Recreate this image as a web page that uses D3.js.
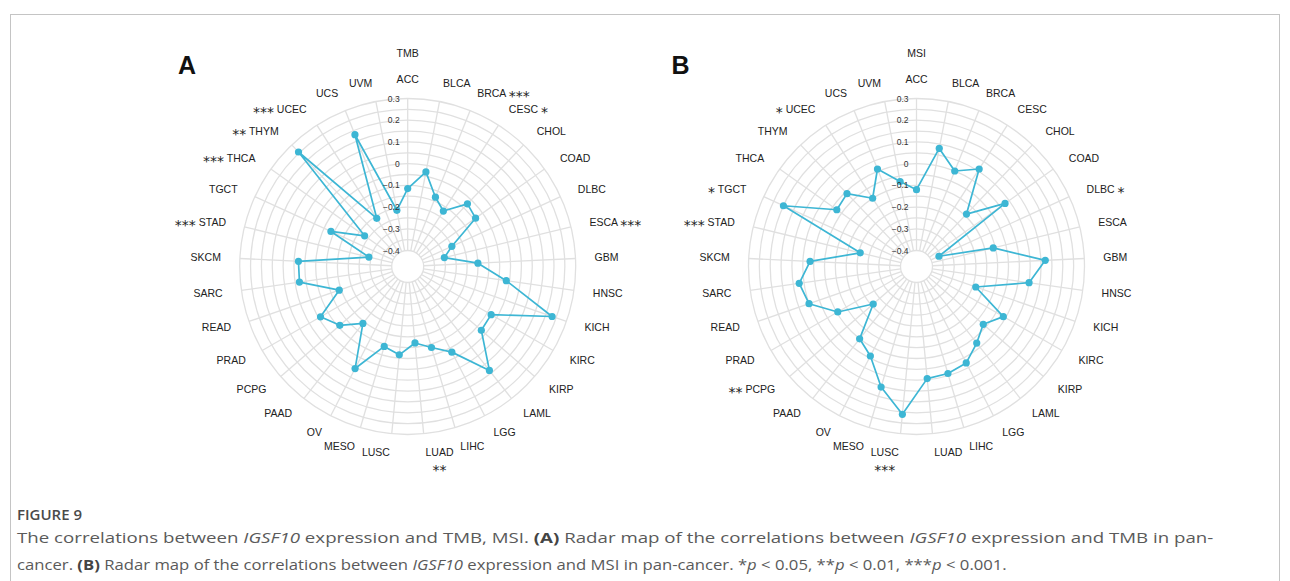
<!DOCTYPE html>
<html>
<head>
<meta charset="utf-8">
<script src="https://cdn.jsdelivr.net/npm/d3@7"></script>
<style>
  body { margin: 0; background: #fff; }
  svg { display: block; }
</style>
</head>
<body>
<svg id="fig" width="1290" height="581"></svg>
<script>
// Cancer types, clockwise from the top spoke
const cancers = ["ACC","BLCA","BRCA","CESC","CHOL","COAD","DLBC","ESCA","GBM","HNSC",
  "KICH","KIRC","KIRP","LAML","LGG","LIHC","LUAD","LUSC","MESO","OV","PAAD","PCPG",
  "PRAD","READ","SARC","SKCM","STAD","TGCT","THCA","THYM","UCEC","UCS","UVM"];

// Correlation of IGSF10 expression with TMB
const tmbCorr = [-0.115,-0.03,-0.13,-0.17,-0.075,-0.09,-0.25,-0.30,-0.15,-0.015,
  0.23,-0.03,-0.025,0.135,-0.03,-0.085,-0.12,-0.065,-0.09,0.055,-0.14,-0.06,
  -0.01,-0.14,0.03,0.03,-0.29,-0.085,-0.23,0.255,-0.21,0.18,-0.21];
const tmbStars = ["","","***","*","","","","***","","",
  "","","","","","","**","","","","","",
  "","","","","***","","***","**","***","",""];

// Correlation of IGSF10 expression with MSI
const msiCorr = [-0.12,0.08,0.0,0.06,-0.14,0.027,-0.36,-0.11,0.12,0.05,
  -0.185,-0.012,-0.067,-0.025,0.026,0.04,0.045,0.21,0.105,-0.01,-0.05,-0.21,
  -0.055,0.05,0.072,0.017,-0.207,0.2,-0.023,-0.01,-0.1,0.01,-0.075];
const msiStars = ["","","","","","","*","","","",
  "","","","","","","","***","","","","**",
  "","","","","***","*","","","*","",""];

// Radial axis
const radialTicks = [0.3,0.2,0.1,0,-0.1,-0.2,-0.3,-0.4];
const radialTickLabels = ["0.3","0.2","0.1","0","\u22120.1","\u22120.2","\u22120.3","\u22120.4"];
const gridLevels = d3.range(-0.4, 0.3001, 0.05);

const svg = d3.select("#fig");
const lineColor = "#3db6d4";
const gridColor = "#e0e0e0";
const labelFont = "'Liberation Sans', Arial, Helvetica, sans-serif";
const starFont = "'DejaVu Sans', sans-serif";
const starSize = 14;
const starDrop = 4.2;

// frame around the figure
svg.append("rect")
  .attr("x", 10.5).attr("y", 14.5).attr("width", 1269).attr("height", 640)
  .attr("fill", "none").attr("stroke", "#c4c4c4").attr("stroke-width", 1);

function addStars(textSel, star) {
  return textSel.append("tspan")
    .attr("font-family", starFont).attr("font-size", starSize)
    .attr("dy", starDrop).text(star);
}

function drawRadar(cx, cy, title, letter, letterX, values, stars) {
  const g = svg.append("g").attr("transform", `translate(${cx},${cy})`);
  const n = cancers.length;
  const r = d3.scaleLinear().domain([-0.4, 0.3]).range([16, 168]);
  const angle = d3.scaleLinear().domain([0, n]).range([0, 2 * Math.PI]);

  // concentric grid
  g.append("g").selectAll("circle").data(gridLevels).join("circle")
    .attr("r", d => r(d)).attr("fill", "none")
    .attr("stroke", gridColor).attr("stroke-width", 1.3);

  // spokes
  g.append("g").selectAll("line").data(cancers).join("line")
    .attr("x1", (d, i) => r(-0.4) * Math.sin(angle(i)))
    .attr("y1", (d, i) => -r(-0.4) * Math.cos(angle(i)))
    .attr("x2", (d, i) => r(0.3) * Math.sin(angle(i)))
    .attr("y2", (d, i) => -r(0.3) * Math.cos(angle(i)))
    .attr("stroke", gridColor).attr("stroke-width", 1.3);

  // correlation polygon
  const radial = d3.lineRadial()
    .angle((d, i) => angle(i))
    .radius(d => r(d))
    .curve(d3.curveLinearClosed);
  g.append("path").datum(values)
    .attr("d", radial).attr("fill", "none")
    .attr("stroke", lineColor).attr("stroke-width", 1.7)
    .attr("stroke-linejoin", "round");

  g.append("g").selectAll("circle").data(values).join("circle")
    .attr("cx", (d, i) => r(d) * Math.sin(angle(i)))
    .attr("cy", (d, i) => -r(d) * Math.cos(angle(i)))
    .attr("r", 3.6).attr("fill", lineColor);

  // radial tick labels
  g.append("g").selectAll("text").data(radialTicks).join("text")
    .attr("x", -8).attr("y", d => -r(d) + 3)
    .attr("text-anchor", "end")
    .attr("font-family", labelFont).attr("font-size", 8.5).attr("fill", "#333")
    .text((d, i) => radialTickLabels[i]);

  // category labels
  const R = 187;
  const fs = 10.5;
  const lab = g.append("g").attr("font-family", labelFont)
    .attr("font-size", fs).attr("fill", "#222");
  cancers.forEach((name, i) => {
    const a = angle(i);
    const s = Math.sin(a), c = Math.cos(a);
    const x = R * s, y = -R * c;
    const anchor = Math.abs(s) < 1e-6 ? "middle" : (s > 0 ? "start" : "end");
    const star = stars[i];
    const bottom = c < -0.95;
    const t = lab.append("text")
      .attr("x", x).attr("y", y + fs * 0.36)
      .attr("text-anchor", anchor);
    if (star && !bottom) {
      if (s > 0) {
        t.append("tspan").text(name + " ");
        addStars(t, star);
      } else {
        addStars(t, star);
        t.append("tspan").attr("dy", -starDrop).text(" " + name);
      }
    } else {
      t.text(name);
    }
    if (star && bottom) {
      const w = t.node().getComputedTextLength();
      const mid = anchor === "start" ? x + w / 2 : (anchor === "end" ? x - w / 2 : x);
      lab.append("text")
        .attr("x", mid).attr("y", y + fs * 0.36 + 14 + starDrop)
        .attr("text-anchor", "middle")
        .attr("font-family", starFont).attr("font-size", starSize)
        .text(star);
    }
  });

  // axis title above the top spoke
  g.append("text").attr("x", 0).attr("y", -210)
    .attr("text-anchor", "middle")
    .attr("font-family", labelFont).attr("font-size", fs).attr("fill", "#222")
    .text(title);

  // panel letter
  svg.append("text").attr("x", letterX).attr("y", 73.5)
    .attr("font-family", labelFont).attr("font-weight", "bold")
    .attr("font-size", 25).attr("fill", "#111").text(letter);
}

drawRadar(407.7, 266.5, "TMB", "A", 178, tmbCorr, tmbStars);
drawRadar(916.5, 266.5, "MSI", "B", 671.5, msiCorr, msiStars);

// caption
const capFont = "'Open Sans', 'Noto Sans', sans-serif";
svg.append("text").attr("x", 17).attr("y", 519.5)
  .attr("font-family", capFont).attr("font-size", 15).attr("font-weight", 600)
  .attr("fill", "#4a4a4a").text("FIGURE 9");

function captionLine(y, parts, width) {
  const t = svg.append("text").attr("x", 0).attr("y", y)
    .attr("font-family", capFont).attr("font-size", 15).attr("fill", "#5a5a5a");
  parts.forEach(([str, style]) => {
    const sp = t.append("tspan").text(str);
    if (style === "i") sp.attr("font-style", "italic");
    if (style === "b") sp.attr("font-weight", "bold").attr("fill", "#444");
  });
  const w = t.node().getComputedTextLength();
  t.attr("transform", `translate(17,0) scale(${width / w},1)`);
}

captionLine(543.5, [
  ["The correlations between "], ["IGSF10", "i"], [" expression and TMB, MSI. "],
  ["(A)", "b"], [" Radar map of the correlations between "], ["IGSF10", "i"],
  [" expression and TMB in pan-"]
], 1197);

captionLine(570.5, [
  ["cancer. "], ["(B)", "b"], [" Radar map of the correlations between "], ["IGSF10", "i"],
  [" expression and MSI in pan-cancer. *"], ["p", "i"], [" < 0.05, **"], ["p", "i"],
  [" < 0.01, ***"], ["p", "i"], [" < 0.001."]
], 990);
</script>
</body>
</html>
